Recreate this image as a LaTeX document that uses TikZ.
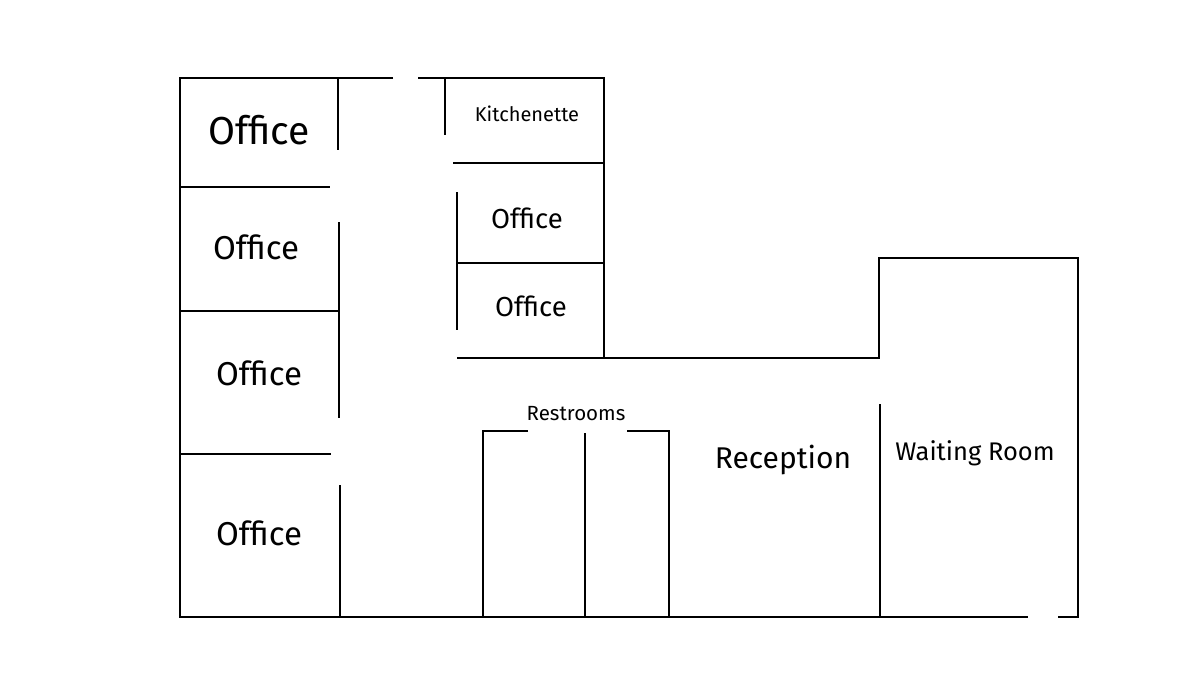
\documentclass[tikz,border=0pt]{standalone}
\usepackage{fontspec}
\setmainfont{Fira Sans}
\begin{document}
\begin{tikzpicture}[x=1pt,y=-1pt,wall/.style={line width=2.4pt},lbl/.style={inner sep=0pt}]
\useasboundingbox (0,0) rectangle (1200,675);
% outer walls
\draw[wall] (393,78) -- (180,78) -- (180,617) -- (1028,617);
\draw[wall] (418,78) -- (604,78) -- (604,358);
\draw[wall] (1058,617) -- (1078,617) -- (1078,258) -- (879,258) -- (879,358) -- (457,358);
\draw[wall] (880,404) -- (880,617);
% kitchenette / offices column
\draw[wall] (445,78) -- (445,135);
\draw[wall] (453,163) -- (604,163);
\draw[wall] (457,192) -- (457,330);
\draw[wall] (457,263) -- (604,263);
% left offices
\draw[wall] (338,78) -- (338,150);
\draw[wall] (180,187) -- (330,187);
\draw[wall] (339,222) -- (339,418);
\draw[wall] (180,311) -- (339,311);
\draw[wall] (180,454) -- (331,454);
\draw[wall] (340,485) -- (340,617);
% restrooms
\draw[wall] (528,431) -- (483,431) -- (483,617);
\draw[wall] (627,431) -- (669,431) -- (669,617);
\draw[wall] (585,433) -- (585,617);
% labels
\node[lbl,font=\fontsize{39}{41}\selectfont] (o1) at (259,130) {Office};
\node[lbl,font=\fontsize{33}{35}\selectfont] (o2) at (256,247) {Office};
\node[lbl,font=\fontsize{33}{35}\selectfont] (o3) at (259,373) {Office};
\node[lbl,font=\fontsize{33}{35}\selectfont] (o4) at (259,533) {Office};
\node[lbl,font=\fontsize{20}{22}\selectfont] (k) at (527,114) {Kitchenette};
\node[lbl,font=\fontsize{27.5}{29}\selectfont] (o5) at (527,218) {Office};
\node[lbl,font=\fontsize{27.5}{29}\selectfont] (o6) at (531,306) {Office};
\node[lbl,font=\fontsize{20.5}{22}\selectfont] (r) at (576,414) {Restrooms};
\node[lbl,font=\fontsize{30}{32}\selectfont] (rec) at (783,460) {Reception};
\node[lbl,font=\fontsize{25.5}{27}\selectfont] (w) at (975,453) {Waiting Room};
\end{tikzpicture}
\end{document}
